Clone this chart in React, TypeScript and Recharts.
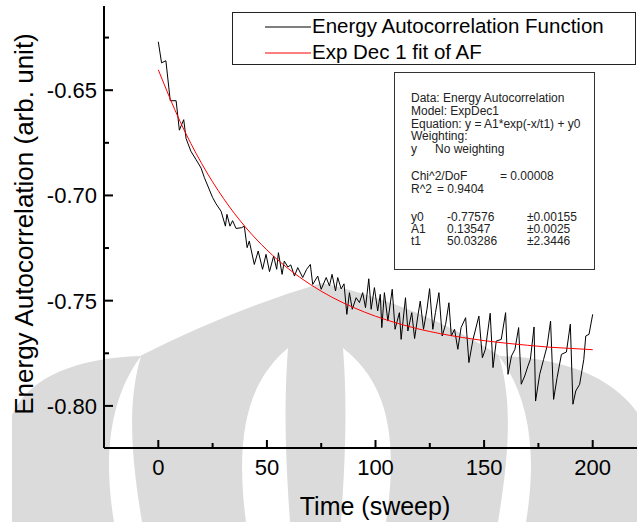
import React from 'react';
import { LineChart, Line, XAxis, YAxis, Legend } from 'recharts';

// Energy autocorrelation (sweep, value)
const sweep = [
  0, 1.5, 3.5, 5.5, 8.2, 9.7, 11.7, 12.8, 15, 17.4,
  19.7, 21.2, 23, 25, 26.6, 28.9, 30.9, 31.6, 33, 34.2,
  35.8, 38.4, 39.6, 40.9, 41.9, 44.2, 46, 48, 49.6, 51.2,
  53.1, 54.5, 55.3, 57, 58, 59.7, 61, 62.7, 64.2, 66.5,
  68.3, 70, 71.1, 73.4, 75, 77.3, 78.8, 80, 81.6, 82.6,
  84.2, 85.5, 86.8, 88, 89.3, 91.1, 92.6, 94.1, 95.4, 96.9,
  98, 99.5, 101, 102.2, 102.9, 104.1, 105.7, 107.7, 109, 111,
  111.8, 113.8, 114.9, 116.7, 118, 119.5, 120.6, 122.1, 123.7, 124.9,
  126.4, 127.6, 129.2, 130.7, 132.3, 133.8, 134.9, 136.4, 137.9, 139.4,
  141.5, 143, 144.9, 147.6, 149.2, 150.6, 152.8, 154.1, 155.6, 157.9,
  159.9, 161, 162.6, 164.2, 165.9, 167.1, 168.7, 170.2, 171.3, 173,
  173.7, 175.6, 177.4, 179, 180.6, 182, 183.6, 185.6, 187.9, 189.7,
  190.9, 192.2, 194, 195.9, 196.8, 198.3, 200,
];

const energy = [
  -0.627, -0.637, -0.636, -0.655, -0.655, -0.669, -0.664, -0.673, -0.679, -0.683,
  -0.687, -0.6915, -0.696, -0.701, -0.704, -0.7075, -0.7146, -0.709, -0.7146, -0.712,
  -0.7157, -0.7153, -0.7146, -0.7248, -0.7217, -0.7328, -0.7264, -0.7351, -0.728, -0.7362,
  -0.7288, -0.7351, -0.7272, -0.7375, -0.7312, -0.734, -0.733, -0.7383, -0.7343, -0.739,
  -0.7351, -0.7328, -0.7423, -0.7383, -0.7446, -0.739, -0.743, -0.7375, -0.7454, -0.739,
  -0.7444, -0.742, -0.7565, -0.7462, -0.7541, -0.7486, -0.7509, -0.7462, -0.7533, -0.7396,
  -0.7541, -0.7438, -0.7549, -0.747, -0.7628, -0.7462, -0.7597, -0.7446, -0.7636, -0.7557,
  -0.7684, -0.7486, -0.7644, -0.7557, -0.768, -0.7573, -0.7502, -0.7636, -0.7541, -0.7443,
  -0.7636, -0.7557, -0.7462, -0.7668, -0.7612, -0.751, -0.7668, -0.7636, -0.7731, -0.7628,
  -0.7581, -0.7794, -0.7684, -0.7573, -0.7771, -0.7731, -0.756, -0.7818, -0.7692, -0.7684,
  -0.7557, -0.785, -0.7763, -0.7731, -0.7628, -0.7897, -0.7858, -0.781, -0.7779, -0.7625,
  -0.7977, -0.785, -0.7779, -0.7716, -0.7597, -0.7969, -0.7866, -0.7755, -0.7744, -0.7612,
  -0.7992, -0.7929, -0.7897, -0.7779, -0.7668, -0.766, -0.7565,
];

// ExpDec1 fit curve, read at every 10 sweeps
const fitSweep = [0, 10, 20, 30, 40, 50, 60, 70, 80, 90, 100, 110, 120, 130, 140, 150, 160, 170, 180, 190, 200];
const fitValue = [
  -0.6403, -0.6648, -0.6849, -0.7014, -0.7149, -0.7259, -0.7349, -0.7423, -0.7484, -0.7533,
  -0.7574, -0.7607, -0.7635, -0.7657, -0.7675, -0.769, -0.7702, -0.7712, -0.7721, -0.7727, -0.7733,
];

const xTicks = [0, 25, 50, 75, 100, 125, 150, 175, 200, 225];
const xMajor = [0, 50, 100, 150, 200];
const yTicks = [-0.8, -0.775, -0.75, -0.725, -0.7, -0.675, -0.65, -0.625];
const yMajor = [-0.8, -0.75, -0.7, -0.65];

const statsRows = [
  { top: 93, cells: [{ left: 17, text: 'Data: Energy Autocorrelation' }] },
  { top: 106, cells: [{ left: 17, text: 'Model: ExpDec1' }] },
  { top: 119, cells: [{ left: 17, text: 'Equation: y = A1*exp(-x/t1) + y0' }] },
  { top: 131, cells: [{ left: 17, text: 'Weighting:' }] },
  { top: 144, cells: [{ left: 17, text: 'y' }, { left: 41, text: 'No weighting' }] },
  { top: 171, cells: [{ left: 17, text: 'Chi^2/DoF' }, { left: 106, text: '= 0.00008' }] },
  { top: 184, cells: [{ left: 17, text: 'R^2' }, { left: 43, text: '=  0.9404' }] },
  { top: 212, cells: [{ left: 17, text: 'y0' }, { left: 53, text: '-0.77576' }, { left: 133, text: '±0.00155' }] },
  { top: 224, cells: [{ left: 17, text: 'A1' }, { left: 53, text: '0.13547' }, { left: 133, text: '±0.0025' }] },
  { top: 236, cells: [{ left: 17, text: 't1' }, { left: 53, text: '50.03286' }, { left: 133, text: '±2.3446' }] },
];

const FONT = '"Liberation Sans", Arial, Helvetica, sans-serif';

const dataRows = sweep.map((x, i) => ({ x, y: energy[i] }));
const fitRows = fitSweep.map((x, i) => ({ x, y: fitValue[i] }));

const near = (list: number[], v: number) => list.some((m) => Math.abs(m - v) < 1e-6);

function LeftTick(props: any) {
  const { x, y, payload } = props;
  const major = near(yMajor, payload.value);
  return (
    <g>
      <line x1={x} x2={x + (major ? 9 : 5)} y1={y} y2={y} stroke="#000" strokeWidth={2} />
      {major && (
        <text x={x - 7} y={y + 8} textAnchor="end" fontSize={22} fontFamily={FONT} fill="#000">
          {payload.value.toFixed(2)}
        </text>
      )}
    </g>
  );
}

function BottomTick(props: any) {
  const { x, y, payload } = props;
  const major = near(xMajor, payload.value);
  return (
    <g>
      <line x1={x} x2={x} y1={y} y2={y - (major ? 8 : 5)} stroke="#000" strokeWidth={2} />
      {major && (
        <text x={x} y={y + 27} textAnchor="middle" fontSize={22} fontFamily={FONT} fill="#000">
          {payload.value}
        </text>
      )}
    </g>
  );
}

function TopTick(props: any) {
  const { x, y, payload } = props;
  const major = near(xMajor, payload.value);
  return <line x1={x} x2={x} y1={y} y2={y + (major ? 8 : 5)} stroke="#000" strokeWidth={2} />;
}

function LegendBox(props: any) {
  const items = props.payload || [];
  return (
    <div
      style={{
        width: 404,
        height: 53,
        boxSizing: 'border-box',
        border: '1.5px solid #222',
        background: '#fff',
        position: 'relative',
        fontFamily: FONT,
      }}
    >
      {items.map((it: any, i: number) => (
        <div key={it.value} style={{ position: 'absolute', left: 0, top: 3 + i * 26, height: 22, width: 400 }}>
          <svg width={46} height={22} style={{ position: 'absolute', left: 32, top: 0 }}>
            <line x1={0} x2={46} y1={11} y2={11} stroke={it.color} strokeWidth={1.2} />
          </svg>
          <span style={{ position: 'absolute', left: 79, top: -1, fontSize: 20.5, lineHeight: '22px', color: '#000', whiteSpace: 'nowrap' }}>
            {it.value}
          </span>
        </div>
      ))}
    </div>
  );
}

function Watermark() {
  return (
    <svg width={637} height={522} style={{ position: 'absolute', left: 0, top: 0 }}>
      <path
        d="M 12 522 L 12 415 C 30 375, 80 358, 140 356 Q 230 310, 322 283 Q 420 305, 500 356 C 560 358, 610 375, 637 412 L 637 522 Z"
        fill="#dbdbdb"
      />
      <path d="M 141 356 C 112 395, 102 450, 114 522 L 142 522 C 130 450, 128 400, 141 356 Z" fill="#fff" />
      <path d="M 499 356 C 528 395, 538 450, 526 522 L 498 522 C 510 450, 512 400, 499 356 Z" fill="#fff" />
      <path d="M 288 348 C 250 380, 234 430, 246 522 L 290 522 C 285 450, 284 400, 288 348 Z" fill="#fff" />
      <path d="M 343 348 C 384 380, 400 430, 386 522 L 341 522 C 346 450, 347 400, 343 348 Z" fill="#fff" />
    </svg>
  );
}

export default function App() {
  return (
    <div style={{ position: 'absolute', left: 0, top: 0, width: 637, height: 522, overflow: 'hidden', background: '#fff' }}>
      <Watermark />
      <div style={{ position: 'absolute', left: 0, top: 0 }}>
        <LineChart width={666} height={522} margin={{ top: 6, right: 19, bottom: 0, left: 0 }}>
          <XAxis
            xAxisId="bottom"
            type="number"
            dataKey="x"
            domain={[-25, 225]}
            ticks={xTicks}
            allowDataOverflow
            height={74}
            tickSize={0}
            tickMargin={0}
            tickLine={false}
            tick={<BottomTick />}
            axisLine={{ stroke: '#000', strokeWidth: 2 }}
            label={{
              content: () => (
                <text x={375} y={515} textAnchor="middle" fontSize={25} fontFamily={FONT} fill="#000">
                  Time (sweep)
                </text>
              ),
            }}
          />
          <XAxis
            xAxisId="top"
            orientation="top"
            type="number"
            dataKey="x"
            domain={[-25, 225]}
            ticks={xTicks}
            allowDataOverflow
            height={0}
            tickSize={0}
            tickMargin={0}
            tickLine={false}
            tick={<TopTick />}
            axisLine={{ stroke: '#000', strokeWidth: 2 }}
          />
          <YAxis
            type="number"
            domain={[-0.82, -0.61]}
            ticks={yTicks}
            allowDataOverflow
            width={104}
            tickSize={0}
            tickMargin={0}
            tickLine={false}
            tick={<LeftTick />}
            axisLine={{ stroke: '#000', strokeWidth: 2 }}
            label={{
              content: () => (
                <text
                  x={33}
                  y={224}
                  transform="rotate(-90, 33, 224)"
                  textAnchor="middle"
                  fontSize={26}
                  fontFamily={FONT}
                  fill="#000"
                >
                  Energy Autocorrelation (arb. unit)
                </text>
              ),
            }}
          />
          <Legend
            layout="horizontal"
            verticalAlign="middle"
            align="center"
            content={<LegendBox />}
            wrapperStyle={{ left: 232, top: 12, width: 404, height: 53 }}
          />
          <Line
            xAxisId="bottom"
            data={dataRows}
            dataKey="y"
            name="Energy Autocorrelation Function"
            type="linear"
            stroke="#000"
            strokeWidth={1}
            dot={false}
            activeDot={false}
            isAnimationActive={false}
          />
          <Line
            xAxisId="bottom"
            data={fitRows}
            dataKey="y"
            name="Exp Dec 1 fit of AF"
            type="monotone"
            stroke="#ff0000"
            strokeWidth={1}
            dot={false}
            activeDot={false}
            isAnimationActive={false}
          />
        </LineChart>
      </div>
      <div
        style={{
          position: 'absolute',
          left: 394,
          top: 72,
          width: 201,
          height: 198,
          boxSizing: 'border-box',
          border: '1.5px solid #333',
        }}
      />
      {statsRows.map((row) =>
        row.cells.map((c) => (
          <div
            key={row.top + '-' + c.left}
            style={{
              position: 'absolute',
              left: 394 + c.left,
              top: row.top,
              height: 11,
              fontSize: 12,
              lineHeight: '11px',
              fontFamily: FONT,
              color: '#222',
              whiteSpace: 'nowrap',
            }}
          >
            {c.text}
          </div>
        )),
      )}
    </div>
  );
}
